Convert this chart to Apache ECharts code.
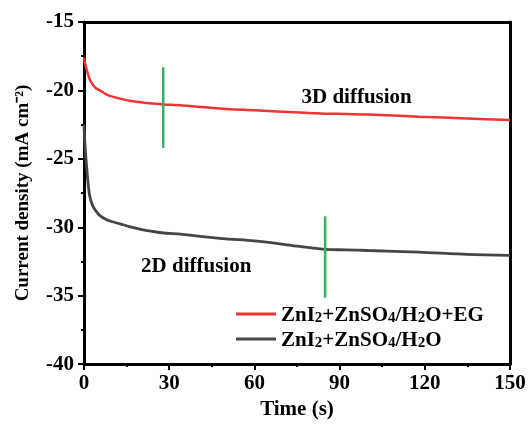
<!DOCTYPE html>
<html>
<head>
<meta charset="utf-8">
<script src="https://cdn.jsdelivr.net/npm/echarts@6/dist/echarts.min.js"></script>
<style>
    html,body{margin:0;padding:0;background:#fff;}
    #chart{width:529px;height:425px;}
</style>
</head>
<body>
<div id="chart"></div>
<script>
// time points (s)
var timeData = [0, 0.3, 0.7, 1.4, 2, 3, 4, 5.6, 8, 10, 12.7, 16, 20, 24, 28, 34, 40, 50, 60, 76, 85, 92, 100, 118, 135, 150];
// ZnI2+ZnSO4/H2O+EG
var egData = [-17.6, -17.9, -18.3, -18.8, -19.2, -19.55, -19.8, -20.0, -20.3, -20.45, -20.6, -20.75, -20.86, -20.95, -21.02, -21.08, -21.2, -21.35, -21.45, -21.62, -21.7, -21.72, -21.76, -21.92, -22.05, -22.17];
// ZnI2+ZnSO4/H2O
var h2oData = [-22.5, -23.8, -25.0, -26.7, -27.7, -28.4, -28.75, -29.15, -29.45, -29.6, -29.75, -29.95, -30.15, -30.3, -30.42, -30.5, -30.65, -30.85, -31.0, -31.4, -31.62, -31.65, -31.7, -31.82, -31.98, -32.05];
// green markers: [x, yTop, yBottom]
var marker3D = [27.9, -18.3, -24.2];
var marker2D = [84.9, -29.2, -35.15];
// annotation texts: [x, y, text]
var notes = [[96, -20.5, '3D diffusion'], [39.5, -32.9, '2D diffusion']];

var font = 'Liberation Serif';
var chart = echarts.init(document.getElementById('chart'));

function pair(x, y){
    var out = [];
    for(var i=0;i<x.length;i++){
        out.push([x[i], y[i]]);
    }
    return out;
}

var legendRich = {
    b:{fontFamily:font, fontWeight:'bold', fontSize:21, color:'#000', lineHeight:24, verticalAlign:'bottom'},
    s:{fontFamily:font, fontWeight:'bold', fontSize:15, color:'#000', lineHeight:20, verticalAlign:'bottom'}
};

var option = {
    animation:false,
    grid:{
        left:84,
        top:22,
        right:19,
        bottom:59
    },
    legend:{
        orient:'vertical',
        left:231,
        top:300,
        itemWidth:40,
        itemHeight:3,
        itemGap:4,
        icon:'rect',
        data:['EG','H2O'],
        formatter:function(name){
            if(name==='EG'){
                return '{b|ZnI}{s|2}{b|+ZnSO}{s|4}{b|/H}{s|2}{b|O+EG}';
            }
            return '{b|ZnI}{s|2}{b|+ZnSO}{s|4}{b|/H}{s|2}{b|O}';
        },
        textStyle:{
            rich:legendRich
        }
    },
    xAxis:[{
        type:'value',
        min:0,
        max:150,
        interval:30,
        name:'Time (s)',
        nameLocation:'middle',
        nameGap:34,
        nameTextStyle:{fontFamily:font, fontWeight:'bold', fontSize:21, color:'#000'},
        axisLine:{show:true, onZero:false, lineStyle:{color:'#000', width:3}},
        axisTick:{show:true, length:6, lineStyle:{color:'#000', width:2}},
        minorTick:{show:true, splitNumber:2, length:3, lineStyle:{color:'#000', width:2}},
        splitLine:{show:false},
        axisLabel:{fontFamily:font, fontWeight:'bold', fontSize:21, color:'#000', margin:9}
    },{
        type:'value',
        position:'top',
        min:0,
        max:150,
        axisLine:{show:true, onZero:false, lineStyle:{color:'#000', width:3}},
        axisTick:{show:false},
        axisLabel:{show:false},
        splitLine:{show:false}
    }],
    yAxis:[{
        type:'value',
        min:-40,
        max:-15,
        interval:5,
        name:'Current density (mA cm⁻²)',
        nameLocation:'middle',
        nameGap:51,
        nameTextStyle:{fontFamily:font, fontWeight:'bold', fontSize:19, color:'#000'},
        axisLine:{show:true, onZero:false, lineStyle:{color:'#000', width:3}},
        axisTick:{show:true, length:6, lineStyle:{color:'#000', width:2}},
        minorTick:{show:true, splitNumber:2, length:3, lineStyle:{color:'#000', width:2}},
        splitLine:{show:false},
        axisLabel:{fontFamily:font, fontWeight:'bold', fontSize:21, color:'#000', margin:10}
    },{
        type:'value',
        position:'right',
        min:-40,
        max:-15,
        axisLine:{show:true, onZero:false, lineStyle:{color:'#000', width:3}},
        axisTick:{show:false},
        axisLabel:{show:false},
        splitLine:{show:false}
    }],
    series:[{
        name:'EG',
        type:'line',
        data:pair(timeData, egData),
        smooth:0.3,
        symbol:'none',
        lineStyle:{color:'#ee3434', width:2.5},
        itemStyle:{color:'#ee3434'},
        z:3
    },{
        name:'H2O',
        type:'line',
        data:pair(timeData, h2oData),
        smooth:0.3,
        symbol:'none',
        lineStyle:{color:'#454545', width:2.8},
        itemStyle:{color:'#454545'},
        z:3
    },{
        name:'mark3D',
        type:'line',
        data:[[marker3D[0], marker3D[1]], [marker3D[0], marker3D[2]]],
        symbol:'none',
        lineStyle:{color:'#36b062', width:2.5},
        z:4
    },{
        name:'mark2D',
        type:'line',
        data:[[marker2D[0], marker2D[1]], [marker2D[0], marker2D[2]]],
        symbol:'none',
        lineStyle:{color:'#36b062', width:2.5},
        z:4
    },{
        name:'notes',
        type:'scatter',
        symbolSize:1,
        itemStyle:{opacity:0},
        data:notes.map(function(n){ return {value:[n[0], n[1]], name:n[2]}; }),
        label:{
            show:true,
            position:'inside',
            formatter:'{b}',
            fontFamily:font,
            fontWeight:'bold',
            fontSize:21,
            color:'#000',
            textBorderWidth:0,
            opacity:1
        },
        z:5
    }]
};
chart.setOption(option);
</script>
</body>
</html>
